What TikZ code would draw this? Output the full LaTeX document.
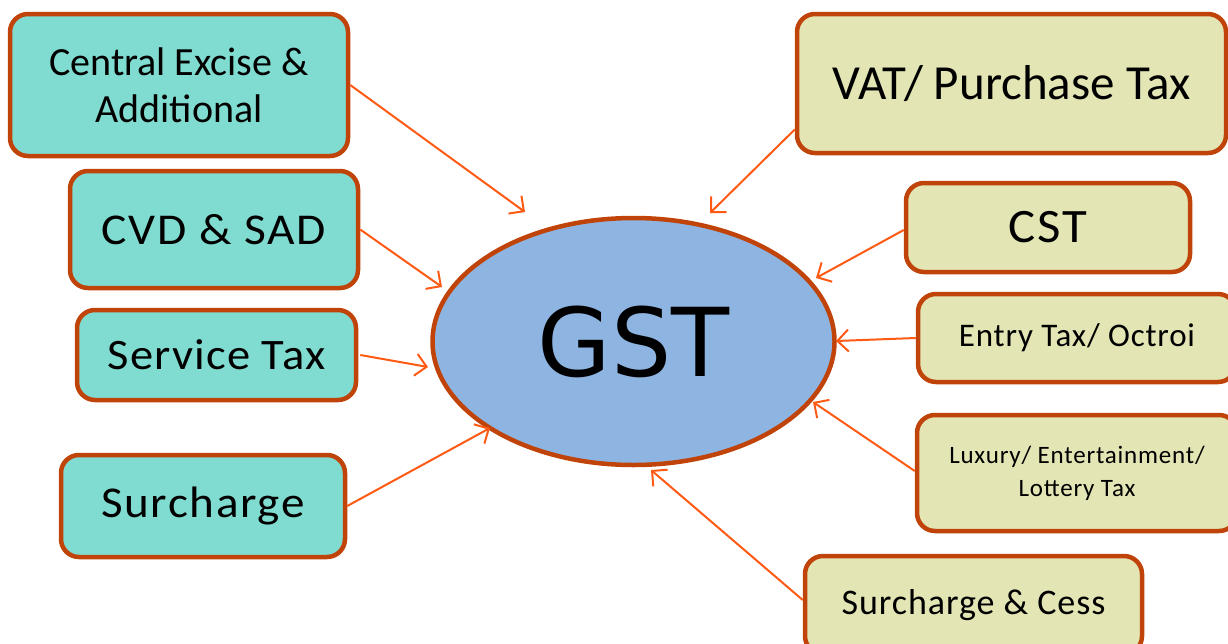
\documentclass[tikz,border=0pt]{standalone}
\usepackage{fontspec}
\usepackage{graphicx}
\setmainfont{Carlito}
\newfontfamily\gstfont{DejaVu Sans}
\usetikzlibrary{arrows.meta,shapes.geometric}
\definecolor{bordc}{RGB}{192,68,10}
\definecolor{arrc}{RGB}{255,90,20}
\definecolor{tealc}{RGB}{128,219,208}
\definecolor{yelc}{RGB}{227,229,180}
\definecolor{bluec}{RGB}{142,180,226}
\newcommand{\bfnt}[3]{\fontsize{#1}{#2}\selectfont\addfontfeature{LetterSpace=#3}}
\newcommand{\wide}[2]{\scalebox{#1}[1]{#2}}
\tikzset{
  box/.style={draw=bordc, line width=4.5pt, rounded corners=18pt, align=center, inner sep=0pt, anchor=center},
  lbox/.style={box, fill=tealc},
  rbox/.style={box, fill=yelc},
  conn/.style={draw=arrc, line width=2pt, -{Straight Barb[length=11pt,width=22pt,line width=2pt]}},
}
\begin{document}
\begin{tikzpicture}[x=1pt,y=-1pt]
\useasboundingbox (0,0) rectangle (1228,643);
\clip (0,0) rectangle (1228,643);
% left boxes
\node[lbox, minimum width=338pt, minimum height=142pt, font=\bfnt{40}{47}{0}] (ce) at (179,85) {Central Excise \&\\Additional};
\node[lbox, minimum width=288pt, minimum height=117pt, font=\bfnt{44}{50}{3.8}] (cvd) at (214,229.5) {\wide{1.08}{CVD \& SAD}};
\node[lbox, minimum width=279pt, minimum height=90pt, font=\bfnt{43.5}{50}{2.4}] (st) at (216.5,355) {\wide{1.07}{Service Tax}};
\node[lbox, minimum width=284pt, minimum height=102pt, font=\bfnt{44}{50}{3.4}] (sur) at (203,506) {\wide{1.07}{Surcharge}};
% right boxes
\node[rbox, minimum width=429pt, minimum height=139pt, font=\bfnt{49}{56}{0}] (vat) at (1011.5,83.5) {VAT/ Purchase Tax};
\node[rbox, minimum width=284pt, minimum height=89pt, font=\bfnt{48}{54}{4.2}] (cst) at (1048,227.5) {\wide{1.06}{CST}};
\node[rbox, minimum width=318pt, minimum height=88pt, font=\bfnt{33}{40}{2.5}] (ent) at (1077,338) {Entry Tax/ Octroi};
\node[rbox, minimum width=320pt, minimum height=116pt, font=\bfnt{25}{33}{3.2}] (lux) at (1077,473) {Luxury/ Entertainment/\\Lottery Tax};
\node[rbox, minimum width=337pt, minimum height=98pt, font=\bfnt{36}{42}{2.6}] (sc) at (973.5,605) {Surcharge \& Cess};
% centre
\node[ellipse, draw=bordc, line width=4.5pt, fill=bluec, minimum width=402pt, minimum height=247pt, inner sep=0pt, font=\gstfont\fontsize{95}{110}\selectfont] (gst) at (633.5,341.5) {GST};
% arrow targets
\coordinate (t1) at (525,212);
\coordinate (t2) at (442,287);
\coordinate (t3) at (428,367);
\coordinate (t4) at (490,428);
\coordinate (t5) at (710,213);
\coordinate (t6) at (816,278);
\coordinate (t7) at (836,341);
\coordinate (t8) at (813,402);
\coordinate (t9) at (651,470);
\draw[conn] (ce.east) -- (t1);
\draw[conn] (cvd.east) -- (t2);
\draw[conn] ([xshift=2pt]st.east) -- (t3);
\draw[conn] (sur.east) -- (t4);
\draw[conn] ([yshift=-46pt]vat.west) -- (t5);
\draw[conn] ([yshift=-2.5pt]cst.west) -- (t6);
\draw[conn] (ent.west) -- (t7);
\draw[conn] ([yshift=2pt]lux.west) -- (t8);
\draw[conn] ([yshift=5pt]sc.west) -- (t9);
\end{tikzpicture}
\end{document}
